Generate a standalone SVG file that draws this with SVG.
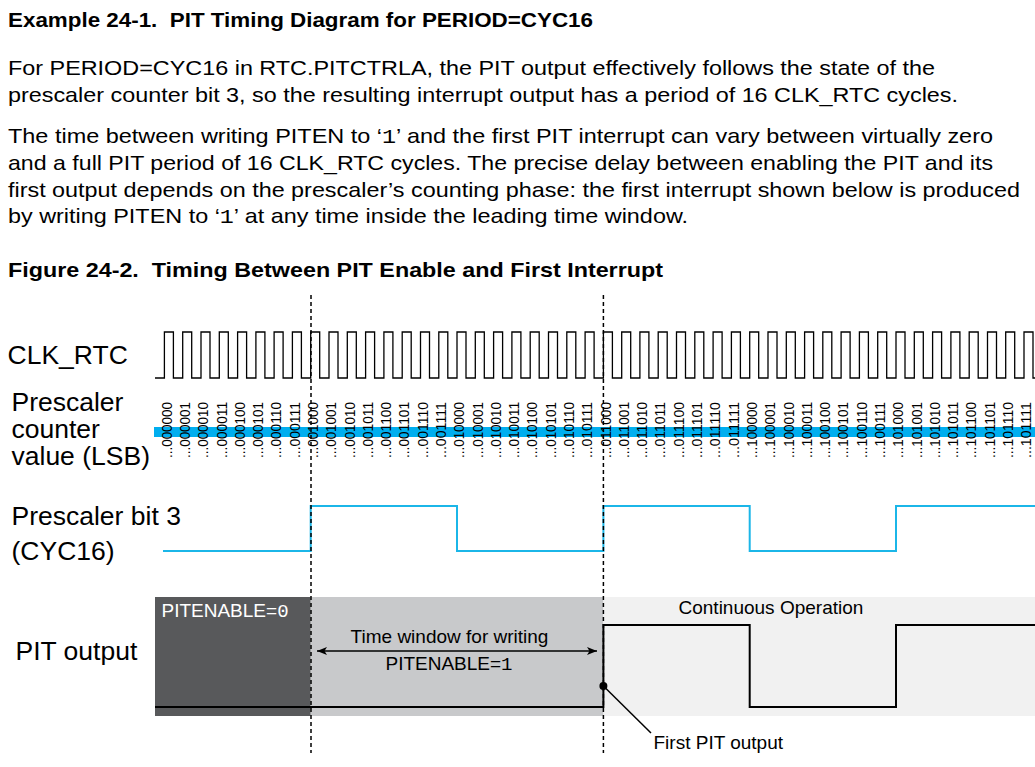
<svg xmlns="http://www.w3.org/2000/svg" width="1035" height="767" viewBox="0 0 1035 767">
<style>
.t{font-family:"Liberation Sans",Arial,sans-serif;fill:#000}
.h{font-family:"Liberation Sans",Arial,sans-serif;font-weight:bold;font-size:21px;fill:#000}
.b{font-family:"Liberation Sans",Arial,sans-serif;font-size:21px;fill:#000}
.m{font-family:"Liberation Mono","Courier New",monospace}
.lab{font-family:"Liberation Sans",Arial,sans-serif;font-size:26.5px;fill:#000}
.cv{font-family:"Liberation Sans",Arial,sans-serif;font-size:15.5px;fill:#000}
.s19{font-family:"Liberation Sans",Arial,sans-serif;font-size:19px}
.dash{stroke:#000;stroke-width:1.5;stroke-dasharray:4 3;fill:none}
.wave{fill:none;stroke:#000;stroke-width:1.3}
.cyan{fill:none;stroke:#1BB6E8;stroke-width:2}
.pit{fill:none;stroke:#000;stroke-width:2}
</style>
<defs>
<marker id="ah" viewBox="0 0 10 8" refX="10" refY="4" markerWidth="10" markerHeight="8" markerUnits="userSpaceOnUse" orient="auto-start-reverse">
<path d="M0,0 L10,4 L0,8 L2.5,4 Z" fill="#000"/>
</marker>
</defs>
<rect width="1035" height="767" fill="#fff"/>

<g id="text-header">
<text class="h" x="8" y="27" textLength="585" lengthAdjust="spacingAndGlyphs">Example 24-1.&#160; PIT Timing Diagram for PERIOD=CYC16</text>
<text class="b" x="8" y="75" textLength="927" lengthAdjust="spacingAndGlyphs">For PERIOD=CYC16 in RTC.PITCTRLA, the PIT output effectively follows the state of the</text>
<text class="b" x="8" y="102" textLength="950" lengthAdjust="spacingAndGlyphs">prescaler counter bit 3, so the resulting interrupt output has a period of 16 CLK_RTC cycles.</text>
<text class="b" x="8" y="143" textLength="985" lengthAdjust="spacingAndGlyphs">The time between writing PITEN to ‘<tspan class="m">1</tspan>’ and the first PIT interrupt can vary between virtually zero</text>
<text class="b" x="8" y="170" textLength="985" lengthAdjust="spacingAndGlyphs">and a full PIT period of 16 CLK_RTC cycles. The precise delay between enabling the PIT and its</text>
<text class="b" x="8" y="197" textLength="1012" lengthAdjust="spacingAndGlyphs">first output depends on the prescaler’s counting phase: the first interrupt shown below is produced</text>
<text class="b" x="8" y="223" textLength="680" lengthAdjust="spacingAndGlyphs">by writing PITEN to ‘<tspan class="m">1</tspan>’ at any time inside the leading time window.</text>
<text class="h" x="8" y="277" textLength="655" lengthAdjust="spacingAndGlyphs">Figure 24-2.&#160; Timing Between PIT Enable and First Interrupt</text>
</g>

<g id="pit-backgrounds">
<rect x="155" y="597" width="155.7" height="119" fill="#58595B"/>
<rect x="310.7" y="597" width="292.7" height="119" fill="#C8C9CB"/>
<rect x="603.4" y="597" width="431.6" height="119" fill="#F1F1F1"/>
</g>

<g id="clk-rtc">
<text class="lab" x="7.5" y="363.5">CLK_RTC</text>
<path class="wave" d="M155,378 H164.4 V332 H173.4 V378 H182.7 V332 H191.7 V378 H201.0 V332 H210.0 V378 H219.3 V332 H228.3 V378 H237.6 V332 H246.6 V378 H255.9 V332 H264.9 V378 H274.1 V332 H283.1 V378 H292.4 V332 H301.4 V378 H310.7 V332 H319.7 V378 H329.0 V332 H338.0 V378 H347.3 V332 H356.3 V378 H365.6 V332 H374.6 V378 H383.9 V332 H392.9 V378 H402.2 V332 H411.2 V378 H420.5 V332 H429.5 V378 H438.8 V332 H447.8 V378 H457.0 V332 H466.0 V378 H475.3 V332 H484.3 V378 H493.6 V332 H502.6 V378 H511.9 V332 H520.9 V378 H530.2 V332 H539.2 V378 H548.5 V332 H557.5 V378 H566.8 V332 H575.8 V378 H585.1 V332 H594.1 V378 H603.4 V332 H612.4 V378 H621.7 V332 H630.7 V378 H639.9 V332 H648.9 V378 H658.2 V332 H667.2 V378 H676.5 V332 H685.5 V378 H694.8 V332 H703.8 V378 H713.1 V332 H722.1 V378 H731.4 V332 H740.4 V378 H749.7 V332 H758.7 V378 H768.0 V332 H777.0 V378 H786.3 V332 H795.3 V378 H804.6 V332 H813.6 V378 H822.8 V332 H831.8 V378 H841.1 V332 H850.1 V378 H859.4 V332 H868.4 V378 H877.7 V332 H886.7 V378 H896.0 V332 H905.0 V378 H914.3 V332 H923.3 V378 H932.6 V332 H941.6 V378 H950.9 V332 H959.9 V378 H969.2 V332 H978.2 V378 H987.5 V332 H996.5 V378 H1005.7 V332 H1014.7 V378 H1024.0 V332 H1033.0 V378 H1036"/>
</g>

<g id="prescaler-counter">
<text class="lab" x="11.5" y="411">Prescaler</text>
<text class="lab" x="11.5" y="438">counter</text>
<text class="lab" x="11.5" y="465">value (LSB)</text>
<rect x="154" y="427" width="881" height="10" fill="#00AEEF"/>
<g class="cv">
<text transform="translate(171.6,458) rotate(-90)" textLength="56" lengthAdjust="spacingAndGlyphs">...000000</text>
<text transform="translate(189.9,458) rotate(-90)" textLength="56" lengthAdjust="spacingAndGlyphs">...000001</text>
<text transform="translate(208.2,458) rotate(-90)" textLength="56" lengthAdjust="spacingAndGlyphs">...000010</text>
<text transform="translate(226.5,458) rotate(-90)" textLength="56" lengthAdjust="spacingAndGlyphs">...000011</text>
<text transform="translate(244.8,458) rotate(-90)" textLength="56" lengthAdjust="spacingAndGlyphs">...000100</text>
<text transform="translate(263.1,458) rotate(-90)" textLength="56" lengthAdjust="spacingAndGlyphs">...000101</text>
<text transform="translate(281.3,458) rotate(-90)" textLength="56" lengthAdjust="spacingAndGlyphs">...000110</text>
<text transform="translate(299.6,458) rotate(-90)" textLength="56" lengthAdjust="spacingAndGlyphs">...000111</text>
<text transform="translate(317.9,458) rotate(-90)" textLength="56" lengthAdjust="spacingAndGlyphs">...001000</text>
<text transform="translate(336.2,458) rotate(-90)" textLength="56" lengthAdjust="spacingAndGlyphs">...001001</text>
<text transform="translate(354.5,458) rotate(-90)" textLength="56" lengthAdjust="spacingAndGlyphs">...001010</text>
<text transform="translate(372.8,458) rotate(-90)" textLength="56" lengthAdjust="spacingAndGlyphs">...001011</text>
<text transform="translate(391.1,458) rotate(-90)" textLength="56" lengthAdjust="spacingAndGlyphs">...001100</text>
<text transform="translate(409.4,458) rotate(-90)" textLength="56" lengthAdjust="spacingAndGlyphs">...001101</text>
<text transform="translate(427.7,458) rotate(-90)" textLength="56" lengthAdjust="spacingAndGlyphs">...001110</text>
<text transform="translate(446.0,458) rotate(-90)" textLength="56" lengthAdjust="spacingAndGlyphs">...001111</text>
<text transform="translate(464.2,458) rotate(-90)" textLength="56" lengthAdjust="spacingAndGlyphs">...010000</text>
<text transform="translate(482.5,458) rotate(-90)" textLength="56" lengthAdjust="spacingAndGlyphs">...010001</text>
<text transform="translate(500.8,458) rotate(-90)" textLength="56" lengthAdjust="spacingAndGlyphs">...010010</text>
<text transform="translate(519.1,458) rotate(-90)" textLength="56" lengthAdjust="spacingAndGlyphs">...010011</text>
<text transform="translate(537.4,458) rotate(-90)" textLength="56" lengthAdjust="spacingAndGlyphs">...010100</text>
<text transform="translate(555.7,458) rotate(-90)" textLength="56" lengthAdjust="spacingAndGlyphs">...010101</text>
<text transform="translate(574.0,458) rotate(-90)" textLength="56" lengthAdjust="spacingAndGlyphs">...010110</text>
<text transform="translate(592.3,458) rotate(-90)" textLength="56" lengthAdjust="spacingAndGlyphs">...010111</text>
<text transform="translate(610.6,458) rotate(-90)" textLength="56" lengthAdjust="spacingAndGlyphs">...011000</text>
<text transform="translate(628.9,458) rotate(-90)" textLength="56" lengthAdjust="spacingAndGlyphs">...011001</text>
<text transform="translate(647.1,458) rotate(-90)" textLength="56" lengthAdjust="spacingAndGlyphs">...011010</text>
<text transform="translate(665.4,458) rotate(-90)" textLength="56" lengthAdjust="spacingAndGlyphs">...011011</text>
<text transform="translate(683.7,458) rotate(-90)" textLength="56" lengthAdjust="spacingAndGlyphs">...011100</text>
<text transform="translate(702.0,458) rotate(-90)" textLength="56" lengthAdjust="spacingAndGlyphs">...011101</text>
<text transform="translate(720.3,458) rotate(-90)" textLength="56" lengthAdjust="spacingAndGlyphs">...011110</text>
<text transform="translate(738.6,458) rotate(-90)" textLength="56" lengthAdjust="spacingAndGlyphs">...011111</text>
<text transform="translate(756.9,458) rotate(-90)" textLength="56" lengthAdjust="spacingAndGlyphs">...100000</text>
<text transform="translate(775.2,458) rotate(-90)" textLength="56" lengthAdjust="spacingAndGlyphs">...100001</text>
<text transform="translate(793.5,458) rotate(-90)" textLength="56" lengthAdjust="spacingAndGlyphs">...100010</text>
<text transform="translate(811.8,458) rotate(-90)" textLength="56" lengthAdjust="spacingAndGlyphs">...100011</text>
<text transform="translate(830.0,458) rotate(-90)" textLength="56" lengthAdjust="spacingAndGlyphs">...100100</text>
<text transform="translate(848.3,458) rotate(-90)" textLength="56" lengthAdjust="spacingAndGlyphs">...100101</text>
<text transform="translate(866.6,458) rotate(-90)" textLength="56" lengthAdjust="spacingAndGlyphs">...100110</text>
<text transform="translate(884.9,458) rotate(-90)" textLength="56" lengthAdjust="spacingAndGlyphs">...100111</text>
<text transform="translate(903.2,458) rotate(-90)" textLength="56" lengthAdjust="spacingAndGlyphs">...101000</text>
<text transform="translate(921.5,458) rotate(-90)" textLength="56" lengthAdjust="spacingAndGlyphs">...101001</text>
<text transform="translate(939.8,458) rotate(-90)" textLength="56" lengthAdjust="spacingAndGlyphs">...101010</text>
<text transform="translate(958.1,458) rotate(-90)" textLength="56" lengthAdjust="spacingAndGlyphs">...101011</text>
<text transform="translate(976.4,458) rotate(-90)" textLength="56" lengthAdjust="spacingAndGlyphs">...101100</text>
<text transform="translate(994.7,458) rotate(-90)" textLength="56" lengthAdjust="spacingAndGlyphs">...101101</text>
<text transform="translate(1012.9,458) rotate(-90)" textLength="56" lengthAdjust="spacingAndGlyphs">...101110</text>
<text transform="translate(1031.2,458) rotate(-90)" textLength="56" lengthAdjust="spacingAndGlyphs">...101111</text>
</g>
</g>

<g id="prescaler-bit3">
<text class="lab" x="11.5" y="524.5">Prescaler bit 3</text>
<text class="lab" x="11.5" y="560">(CYC16)</text>
<path class="cyan" d="M163,551 H310.7 V506 H457 V551 H603.4 V506 H749.7 V551 H896 V506 H1036"/>
</g>

<g id="pit-output">
<text class="lab" x="15.5" y="660">PIT output</text>
<text class="s19" x="161.5" y="617" fill="#fff">PITENABLE=<tspan class="m">0</tspan></text>
<text class="s19" x="449.5" y="643" text-anchor="middle" fill="#000">Time window for writing</text>
<text class="s19" x="449" y="670" text-anchor="middle" fill="#000">PITENABLE=<tspan class="m">1</tspan></text>
<text class="s19" x="678.5" y="614" fill="#000">Continuous Operation</text>
<path class="pit" d="M155,707 H603.4 V625 H749.7 V707 H896 V625 H1036"/>
</g>

<g id="first-pit-output">
<circle cx="603.4" cy="686" r="4" fill="#000"/>
<text class="s19" x="653.5" y="749" fill="#000">First PIT output</text>
</g>

<g id="connectors">
<line class="dash" x1="311" y1="295" x2="311" y2="753"/>
<line class="dash" x1="603.4" y1="295" x2="603.4" y2="753"/>
<line x1="317" y1="651" x2="597" y2="651" stroke="#000" stroke-width="1.3" marker-start="url(#ah)" marker-end="url(#ah)"/>
<line x1="603.4" y1="686" x2="651" y2="733" stroke="#000" stroke-width="1.5"/>
</g>
</svg>
